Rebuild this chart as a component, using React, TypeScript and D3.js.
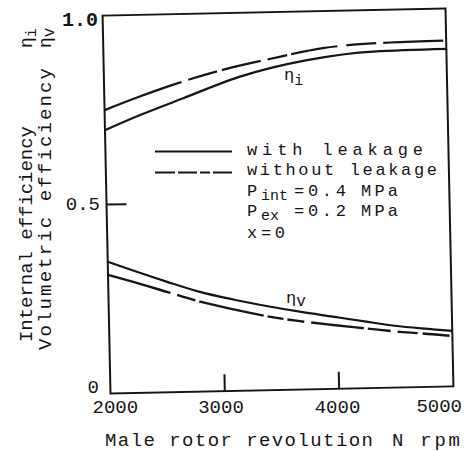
import React from 'react';
import * as d3 from 'd3';

// ---- data ----
const rpmIWith = [2000, 2310, 2690, 3190, 3780, 4360, 5000];
const etaIWith = [0.697, 0.735, 0.777, 0.831, 0.871, 0.89, 0.893];
const rpmIWithout = [2000, 2310, 2600, 3040, 3520, 3920, 4510, 5000];
const etaIWithout = [0.75, 0.784, 0.813, 0.85, 0.88, 0.902, 0.913, 0.915];
const rpmV = [2000, 2220, 2510, 2800, 3090, 3380, 3670, 3960, 4250, 4540, 4830, 5000];
const etaVWith = [0.349, 0.324, 0.293, 0.264, 0.242, 0.223, 0.206, 0.191, 0.176, 0.162, 0.152, 0.147];
const etaVWithout = [0.314, 0.294, 0.266, 0.238, 0.216, 0.196, 0.181, 0.169, 0.158, 0.147, 0.139, 0.133];
const xTickValues = [2000, 3000, 4000, 5000];
const xTickLabels = ['2000', '3000', '4000', '5000'];
const xInnerTicks = [3000, 4000];
const yTickValues = [0, 0.5, 1.0];
const yTickLabels = ['0', '0.5', '1.0'];
const yInnerTicks = [0.5];
const legendLabels = ['with leakage', 'without leakage'];
const xTitle = ['Male rotor revolution', 'N rpm'];
const yTitle1 = 'Internal efficiency';
const yTitle2 = 'Volumetric efficiency';

const FONT = "'Liberation Mono', 'DejaVu Sans Mono', monospace";
const INK = '#151515';

export default function App() {
  const x = d3.scaleLinear().domain([2000, 5000]).range([106.5, 449.5]);
  const y = d3.scaleLinear().domain([0, 1]).range([390, 12]);
  // label placement scales (labels were typed level, not rotated with the frame)
  const xl = d3.scaleLinear().domain([2000, 5000]).range([104.5, 454]);
  const yl = d3.scaleLinear().domain([0, 1]).range([393, 26]);

  const line = d3
    .line<[number, number]>()
    .x((d) => x(d[0]))
    .y((d) => y(d[1]))
    .curve(d3.curveMonotoneX);

  const zip = (a: number[], b: number[]) => a.map((v, i) => [v, b[i]] as [number, number]);

  const dashI = '82,7,30,5,40,7,20,4,47,9,30,7,60,6';
  const dashV = '65,7,19,4,66,4,16,4,17,7,53,4,23,7,20,5,27,5';
  const LFS = 17;

  return (
    <svg
      width={472}
      height={451}
      style={{ position: 'absolute', left: 0, top: 0, background: '#fff' }}
      fontFamily={FONT}
    >
      <rect x={0} y={0} width={472} height={451} fill="#fff" />
      <g transform="rotate(-1.2 278 201)">
        <rect
          x={x(2000)}
          y={y(1)}
          width={x(5000) - x(2000)}
          height={y(0) - y(1)}
          fill="none"
          stroke={INK}
          strokeWidth={2}
        />
        {xInnerTicks.map((t) => (
          <line key={t} x1={x(t)} x2={x(t)} y1={y(0)} y2={y(0) - 17} stroke={INK} strokeWidth={2} />
        ))}
        {yInnerTicks.map((t) => (
          <line key={t} x1={x(2000)} x2={x(2000) + 20} y1={y(t)} y2={y(t)} stroke={INK} strokeWidth={2} />
        ))}
        <path d={line(zip(rpmIWith, etaIWith)) || ''} fill="none" stroke={INK} strokeWidth={2.2} />
        <path
          d={line(zip(rpmIWithout, etaIWithout)) || ''}
          fill="none"
          stroke={INK}
          strokeWidth={2.2}
          strokeDasharray={dashI}
        />
        <path d={line(zip(rpmV, etaVWith)) || ''} fill="none" stroke={INK} strokeWidth={2.2} />
        <path
          d={line(zip(rpmV, etaVWithout)) || ''}
          fill="none"
          stroke={INK}
          strokeWidth={2.4}
          strokeDasharray={dashV}
        />
      </g>

      {/* y tick labels */}
      {yTickValues.map((v, i) => (
        <text
          key={v}
          x={v === 1 ? 98 : v === 0 ? 99 : 100}
          y={yl(v)}
          textAnchor="end"
          fontSize={v === 1 ? 20 : 19}
          fontWeight={v === 1 ? 'bold' : 'normal'}
          fill={INK}
        >
          {yTickLabels[i]}
        </text>
      ))}

      {/* x tick labels */}
      {xTickValues.map((v, i) => {
        const first = i === 0;
        const last = i === xTickValues.length - 1;
        return (
          <text
            key={v}
            x={first ? xl(v) - 12 : last ? xl(v) + 8 : xl(v)}
            y={413 - (last ? 1 : 0)}
            textAnchor={first ? 'start' : last ? 'end' : 'middle'}
            fontSize={19}
            fill={INK}
          >
            {xTickLabels[i]}
          </text>
        );
      })}

      {/* x title */}
      <text x={105} y={446} fontSize={19} fill={INK} textLength={268} lengthAdjust="spacing">
        {xTitle[0]}
      </text>
      <text x={392} y={446} fontSize={19} fill={INK} textLength={68} lengthAdjust="spacing">
        {xTitle[1]}
      </text>

      {/* y title */}
      <text transform="translate(32,342) rotate(-90)" fontSize={19} fill={INK} textLength={216} lengthAdjust="spacing">
        {yTitle1}
      </text>
      <text transform="translate(32,48) rotate(-90)" fontSize={18} fill={INK}>
        η<tspan dy={4} fontSize={15}>i</tspan>
      </text>
      <text transform="translate(51,350) rotate(-90)" fontSize={19} fill={INK} textLength={282} lengthAdjust="spacing">
        {yTitle2}
      </text>
      <text transform="translate(51,48) rotate(-90)" fontSize={18} fill={INK}>
        η<tspan dy={3} fontSize={16}>v</tspan>
      </text>

      {/* curve labels */}
      <text x={284} y={80} fontSize={17} fill={INK}>
        η<tspan dy={5} fontSize={15}>i</tspan>
      </text>
      <text x={286} y={303} fontSize={17} fill={INK}>
        η<tspan dy={3} fontSize={16}>v</tspan>
      </text>

      {/* legend */}
      <line x1={155} x2={232} y1={151.5} y2={151.5} stroke={INK} strokeWidth={2.2} />
      <line x1={155} x2={232} y1={172.5} y2={172.5} stroke={INK} strokeWidth={2.2} strokeDasharray="20,3,19,3,10,3,19" />
      <text x={247} y={155} fontSize={LFS} fill={INK} textLength={176} lengthAdjust="spacing">
        {legendLabels[0]}
      </text>
      <text x={247} y={175} fontSize={LFS} fill={INK} textLength={190} lengthAdjust="spacing">
        {legendLabels[1]}
      </text>
      <text y={196} fontSize={LFS} fill={INK}>
        <tspan x={247}>P</tspan>
        <tspan x={261} y={200} fontSize={15}>int</tspan>
        <tspan x={294} y={196} textLength={52} lengthAdjust="spacing">=0.4</tspan>
        <tspan x={361} textLength={37} lengthAdjust="spacing">MPa</tspan>
      </text>
      <text y={216} fontSize={LFS} fill={INK}>
        <tspan x={247}>P</tspan>
        <tspan x={261} y={220} fontSize={15}>ex</tspan>
        <tspan x={294} y={216} textLength={52} lengthAdjust="spacing">=0.2</tspan>
        <tspan x={361} textLength={37} lengthAdjust="spacing">MPa</tspan>
      </text>
      <text x={247} y={238} fontSize={LFS} fill={INK} textLength={38} lengthAdjust="spacing">
        x=0
      </text>
    </svg>
  );
}
